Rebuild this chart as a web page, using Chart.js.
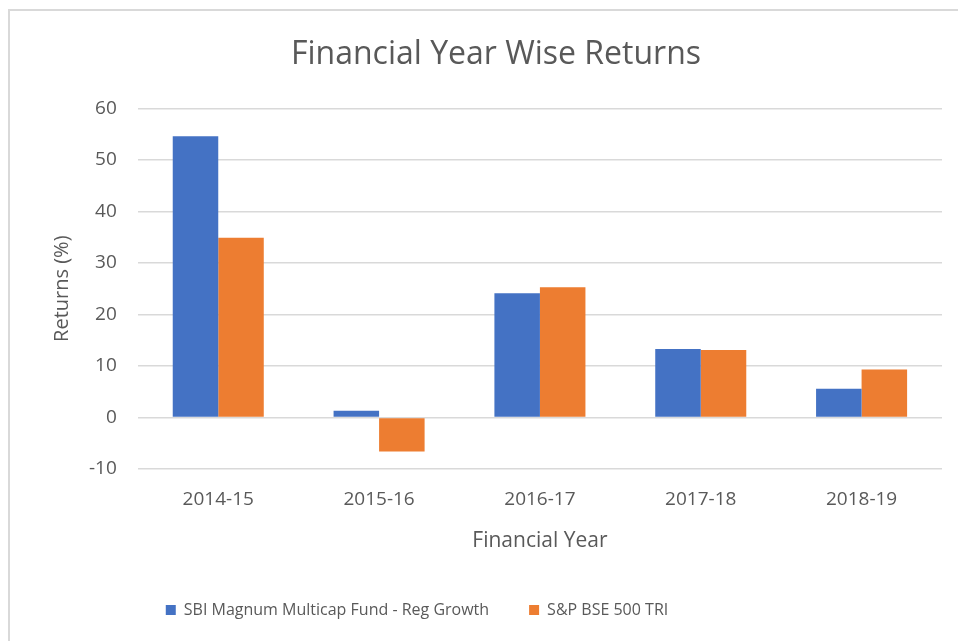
<!DOCTYPE html>
<html>
<head>
<meta charset="utf-8">
<script src="https://cdn.jsdelivr.net/npm/chart.js@4.4.0/dist/chart.umd.min.js"></script>
<style>
    html, body { margin: 0; padding: 0; background: #fff; }
    #moldura {
        position: absolute; left: 8px; top: 9px; width: 960px; height: 640px;
        border-left: 2px solid #d9d9d9; border-top: 2px solid #d9d9d9;
    }
    #area { position: absolute; left: 0; top: 0; width: 958px; height: 641px; }
</style>
</head>
<body>
<div id="moldura"></div>
<div id="area"><canvas id="grafico"></canvas></div>
<script>
// dados
const anos = ["2014-15", "2015-16", "2016-17", "2017-18", "2018-19"];
const fundoSBI = [54.6, 1.3, 24.1, 13.3, 5.6];
const indiceBSE = [34.9, -6.6, 25.3, 13.1, 9.3];
const ticksY = [-10, 0, 10, 20, 30, 40, 50, 60];

const corTexto = "#595959";
const fonte = "'Open Sans', 'Noto Sans', sans-serif";

// a legenda do original fica um pouco à esquerda do centro
const deslocaLegenda = {
    id: "deslocaLegenda",
    afterLayout(chart) {
        chart.legend.left -= 79;
        chart.legend.right -= 79;
    }
};

document.addEventListener("DOMContentLoaded", () => {
    const ctx = document.getElementById("grafico");

    new Chart(ctx, {
        type: "bar",
        data: {
            labels: anos,
            datasets: [
                { label: "SBI Magnum Multicap Fund - Reg Growth", data: fundoSBI, backgroundColor: "#4472C4" },
                { label: "S&P BSE 500 TRI", data: indiceBSE, backgroundColor: "#ED7D31" }
            ]
        },
        plugins: [deslocaLegenda],
        options: {
            responsive: true,
            maintainAspectRatio: false,
            animation: false,
            datasets: { bar: { categoryPercentage: 0.566, barPercentage: 1.0 } },
            layout: { padding: { left: 50, right: 16, top: 0, bottom: 13 } },
            plugins: {
                title: {
                    display: true,
                    text: "Financial Year Wise Returns",
                    color: corTexto,
                    font: { family: fonte, size: 32, weight: "normal" },
                    padding: { top: 36, bottom: 34 }
                },
                legend: {
                    position: "bottom",
                    labels: {
                        color: corTexto,
                        font: { family: fonte, size: 16 },
                        boxWidth: 10,
                        boxHeight: 10,
                        padding: 40
                    }
                },
                tooltip: { enabled: false }
            },
            scales: {
                x: {
                    grid: { display: false },
                    border: { display: false },
                    ticks: { color: corTexto, font: { family: fonte, size: 19 }, padding: 11 },
                    title: {
                        display: true,
                        text: "Financial Year",
                        color: corTexto,
                        font: { family: fonte, size: 21 },
                        padding: { top: 7, bottom: 8 }
                    }
                },
                y: {
                    min: -10,
                    max: 60,
                    afterBuildTicks: eixo => { eixo.ticks = ticksY.map(v => ({ value: v })); },
                    grid: { color: "#d9d9d9", lineWidth: 1.5, drawTicks: false },
                    border: { display: false },
                    ticks: { color: corTexto, font: { family: fonte, size: 19 }, padding: 21 },
                    title: {
                        display: true,
                        text: "Returns (%)",
                        color: corTexto,
                        font: { family: fonte, size: 20 },
                        padding: { top: 0, bottom: -6 }
                    }
                }
            }
        }
    });
});
</script>
</body>
</html>
